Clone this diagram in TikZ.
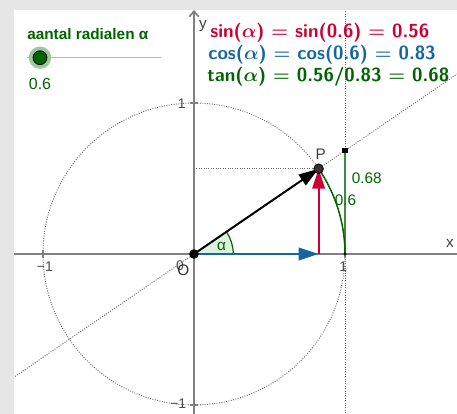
\documentclass[tikz,border=0pt]{standalone}
\usepackage{fontspec}
\setmainfont{Liberation Sans}
\usetikzlibrary{arrows.meta,calc}
\definecolor{sinred}{RGB}{204,0,51}
\definecolor{cosblue}{RGB}{21,101,160}
\definecolor{tangreen}{RGB}{0,100,0}
\definecolor{anglefill}{RGB}{222,240,222}
\definecolor{bggray}{RGB}{230,230,230}
\definecolor{axisgray}{RGB}{128,128,128}
\definecolor{slidergreen}{RGB}{160,200,160}

\begin{document}
\begin{tikzpicture}[x=0.75pt,y=-0.75pt,
  axis/.style={draw=axisgray,line width=1.3pt},
  dots/.style={draw=black!60,line width=0.7pt,dash pattern=on 0.7pt off 1.1pt},
  vec/.style={line width=1.5pt,-{Triangle[length=15pt,width=9.5pt]}},
  lbl/.style={font=\fontsize{11.5}{13}\selectfont,inner sep=0pt},
  ticklbl/.style={font=\fontsize{10.5}{12}\selectfont,text=black!70,inner sep=0pt},
  formula/.style={font=\fontsize{14.2}{16}\selectfont\sffamily\bfseries\boldmath,anchor=west,inner sep=0pt}]
  \fill[bggray] (0,0) rectangle (457,414);
  \fill[white] (14,10) rectangle (457,414);
  \begin{scope}
    \clip (14,10) rectangle (457,414);
    \begin{scope}[shift={(194,254)},x=113.25pt,y=113.25pt]
      \coordinate (O) at (0,0);
      \coordinate (E) at (1,0);
      \coordinate (P) at ({cos(0.6 r)},{sin(0.6 r)});
      \coordinate (C) at ({cos(0.6 r)},0);
      \coordinate (S) at (0,{sin(0.6 r)});
      \coordinate (T) at (1,{tan(0.6 r)});
      \coordinate (xl) at (-1.2,0);
      \coordinate (xr) at (1.75,0);
      \coordinate (yb) at (0,-1.07);
      \coordinate (yt) at (0,1.616);
      \coordinate (vb) at (1,-1.07);
      \coordinate (vt) at (1,1.62);
      \draw[dots] (O) circle (1);
      \draw[dots] ($(O)!-1.5!(P)$) -- ($(O)!2.2!(P)$);
      \draw[dots] (vb) -- (vt);
      \draw[dots] (S) -- (P);
      \draw[axis] (xl) -- (xr);
      \draw[axis,-{Straight Barb[length=4pt,width=7pt]}] (yb) -- (yt);
      \foreach \t in {-1,1} {
        \draw[axisgray,line width=0.8pt] (\t,-0.025) -- (\t,0.025);
        \draw[axisgray,line width=0.8pt] (-0.025,\t) -- (0.025,\t);
      }
      \fill[anglefill] (O) -- (0.26,0) arc[start angle=0,end angle=34.377,radius=0.26] -- cycle;
      \draw[tangreen,line width=0.9pt] (0.26,0) arc[start angle=0,end angle=34.377,radius=0.26];
      \draw[tangreen!75,line width=1.1pt] (E) -- (T);
      \draw[tangreen,line width=1.1pt] (E) arc[start angle=0,end angle=34.377,radius=1];
      \draw[vec,black] (O) -- (P);
      \draw[vec,cosblue] (O) -- (C);
      \draw[vec,sinred] (C) -- (P);
      \fill[black] ($(T)+(-2pt,-2pt)$) rectangle ($(T)+(2pt,2pt)$);
      \fill[black] (E) circle (1.3pt);
      \filldraw[fill=black!80,draw=black,line width=0.6pt] (P) circle (3.6pt);
      \fill[black] (O) circle (3.6pt);
      \node[lbl,text=black!75] (Plbl) at (0.839,0.662) {P};
      \node[lbl,text=tangreen] (tanlbl) at (1.144,0.503) {0.68};
      \node[lbl,text=tangreen] (arclbl) at (1.003,0.358) {0.6};
      \node[lbl,text=tangreen] (alpha) at (0.183,0.048) {α};
      \node[lbl,text=black!75] (xlbl) at (1.695,0.073) {x};
      \node[lbl,text=black!75] (ylbl) at (0.06,1.51) {y};
      \node[ticklbl] (xone) at (0.989,-0.084) {1};
      \node[ticklbl] (xmone) at (-0.987,-0.084) {−1};
      \node[ticklbl] (yone) at (-0.081,0.993) {1};
      \node[ticklbl] (ymone) at (-0.104,-0.989) {−1};
      \node[ticklbl] (zero) at (-0.093,-0.079) {0};
      \node[lbl,text=black!80] (Olbl) at (-0.071,-0.106) {O};
    \end{scope}
  \end{scope}
  \node[font=\fontsize{11.5}{13}\selectfont\bfseries,text=tangreen,anchor=west,inner sep=0pt] (slidertitle) at (27,34) {aantal radialen α};
  \coordinate (s0) at (27,57.7);
  \coordinate (s1) at (160.7,57.7);
  \coordinate (knob) at (40,57.7);
  \draw[slidergreen,line width=1pt] (s0) -- (s1);
  \fill[slidergreen] (knob) circle (8.4pt);
  \filldraw[fill=tangreen,draw=black,line width=0.6pt] (knob) circle (5.2pt);
  \node[font=\fontsize{12}{14}\selectfont,text=tangreen,inner sep=0pt] (sliderval) at (40,84) {0.6};
  \node[formula,text=sinred] (sinf) at (210,33) {sin($\alpha$) $=$ sin(0.6) $=$ 0.56};
  \node[formula,text=cosblue] (cosf) at (208,55) {cos($\alpha$) $=$ cos(0.6) $=$ 0.83};
  \node[formula,text=tangreen] (tanf) at (207,77) {tan($\alpha$) $=$ 0.56/0.83 $=$ 0.68};
\end{tikzpicture}
\end{document}
